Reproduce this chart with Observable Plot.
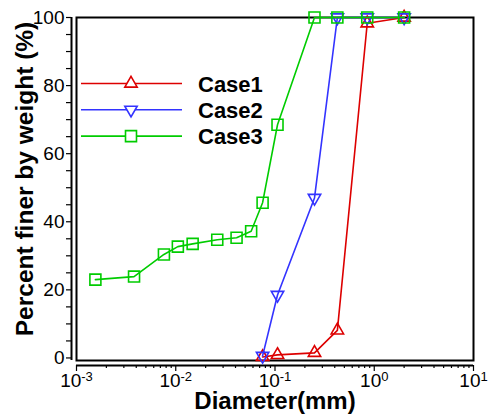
<!DOCTYPE html>
<html><head><meta charset="utf-8">
<script src="https://cdn.jsdelivr.net/npm/d3@7"></script>
<script src="https://cdn.jsdelivr.net/npm/@observablehq/plot@0.6"></script>
<style>
body{margin:0;background:#fff;}
#chart{position:relative;width:493px;height:416px;}
</style>
</head><body><div id="chart"></div>
<script>
// ---- data ----
const sieveSizes = [0.075, 0.106, 0.25, 0.425, 0.85, 2.0];
const case1Passing = [0.3, 0.9, 1.5, 8.1, 98.3, 100];
const case2Passing = [0.6, 18.5, 47.0, 100, 100, 100];
const case3Sizes = [0.00155, 0.0038, 0.0076, 0.0105, 0.0148, 0.0262, 0.041, 0.0575, 0.075, 0.106, 0.25, 0.425, 0.85, 2.0];
const case3Passing = [23.0, 23.9, 30.4, 32.7, 33.5, 34.7, 35.3, 37.2, 45.6, 68.5, 100, 100, 100, 100];
const seriesNames = ["Case1", "Case2", "Case3"];
const seriesColors = ["#dd0000", "#3333ff", "#00cc00"];
const xMajorTicks = [1e-3, 1e-2, 1e-1, 1, 10];
const xTickExponents = ["-3", "-2", "-1", "0", "1"];
const yTicks = d3.range(0, 101, 5);
const yTickLabels = [0, 20, 40, 60, 80, 100];
const xTitle = "Diameter(mm)";
const yTitle = "Percent finer by weight (%)";

// ---- tables ----
const rows1 = sieveSizes.map((d, i) => ({series: "Case1", d, p: case1Passing[i]}));
const rows2 = sieveSizes.map((d, i) => ({series: "Case2", d, p: case2Passing[i]}));
const rows3 = case3Sizes.map((d, i) => ({series: "Case3", d, p: case3Passing[i]}));
const xMinorTicks = [];
for (const dec of [1e-3, 1e-2, 1e-1, 1]) for (let m = 2; m <= 9; m++) xMinorTicks.push(dec * m);
const expOf = d => xTickExponents[xMajorTicks.findIndex(t => Math.abs(Math.log10(t) - Math.log10(d)) < 1e-6)];

const FONT = "'Liberation Sans', Arial, sans-serif";
const lw = 1.6;

const chart = Plot.plot({
  width: 493, height: 416,
  marginLeft: 76, marginRight: 20, marginTop: 17, marginBottom: 56,
  x: {type: "log", domain: [1e-3, 10]},
  y: {domain: [-0.75, 100]},
  color: {domain: seriesNames, range: seriesColors},
  style: {fontFamily: FONT, background: "white", color: "black"},
  marks: [
    Plot.ruleX([1e-3], {dx: -5, stroke: "black", strokeWidth: 2}),
    Plot.ruleY([-0.75], {dy: 5, stroke: "black", strokeWidth: 2}),
    Plot.axisY({ticks: yTicks, tickFormat: d => yTickLabels.includes(d) ? String(d) : "", dx: -5, tickSize: 5, tickPadding: 2, fontSize: 19, label: null, strokeWidth: 1.2}),
    Plot.axisX({ticks: xMinorTicks, tickFormat: () => "", dy: 5, tickSize: 3, label: null, strokeWidth: 1.2}),
    Plot.axisX({ticks: xMajorTicks, tickFormat: d => "10^" + expOf(d), dy: 5, tickSize: 6, tickPadding: 2, fontSize: 19, label: null, strokeWidth: 1.2}),
    Plot.frame({stroke: "black", strokeWidth: 2}),
    Plot.line(rows1, {x: "d", y: "p", stroke: "series", strokeWidth: lw}),
    Plot.dot(rows1, {x: "d", y: "p", stroke: "series", symbol: "triangle", r: 4.6, strokeWidth: lw, fill: "none"}),
    Plot.line(rows2, {x: "d", y: "p", stroke: "series", strokeWidth: lw}),
    Plot.dot(rows2, {x: "d", y: "p", stroke: "series", symbol: "triangle", rotate: 180, r: 4.6, strokeWidth: lw, fill: "none"}),
    Plot.line(rows3, {x: "d", y: "p", stroke: "series", strokeWidth: lw}),
    Plot.dot(rows3, {x: "d", y: "p", stroke: "series", symbol: "square", r: 6.2, strokeWidth: lw, fill: "none"})
  ]
});

document.getElementById("chart").appendChild(chart);
const svg = d3.select(chart);

// superscript exponents on x tick labels
svg.selectAll('g[aria-label="x-axis tick label"] text').each(function () {
  const t = d3.select(this);
  const s = t.text();
  if (!s.includes("^")) return;
  const [base, exp] = s.split("^");
  t.text(null);
  t.append("tspan").text(base);
  t.append("tspan").attr("dy", "-0.5em").attr("font-size", 13).text(exp);
});

// axis titles
svg.append("text")
  .attr("x", 275).attr("y", 409)
  .attr("text-anchor", "middle")
  .attr("font-family", FONT).attr("font-weight", "bold").attr("font-size", 24)
  .text(xTitle);
svg.append("text")
  .attr("transform", "translate(33,179) rotate(-90)")
  .attr("text-anchor", "middle")
  .attr("font-family", FONT).attr("font-weight", "bold").attr("font-size", 24.5)
  .text(yTitle);

// legend
const legendSymbols = [
  {type: d3.symbolTriangle, rot: 0, size: Math.PI * 4.6 * 4.6},
  {type: d3.symbolTriangle, rot: 180, size: Math.PI * 4.6 * 4.6},
  {type: d3.symbolSquare, rot: 0, size: Math.PI * 6.2 * 6.2}
];
const lg = svg.append("g").attr("aria-label", "legend");
seriesNames.forEach((name, i) => {
  const y = 83.5 + i * 26.3;
  const c = seriesColors[i];
  lg.append("line").attr("x1", 81).attr("x2", 182).attr("y1", y).attr("y2", y)
    .attr("stroke", c).attr("stroke-width", lw);
  lg.append("path").attr("d", d3.symbol(legendSymbols[i].type, legendSymbols[i].size)())
    .attr("transform", `translate(131,${y}) rotate(${legendSymbols[i].rot})`)
    .attr("fill", "white").attr("stroke", c).attr("stroke-width", lw);
  lg.append("text").attr("x", 198).attr("y", y + 8)
    .attr("text-anchor", "start")
    .attr("font-family", FONT).attr("font-weight", "bold").attr("font-size", 22)
    .attr("fill", "black").text(name);
});
</script>
</body></html>
